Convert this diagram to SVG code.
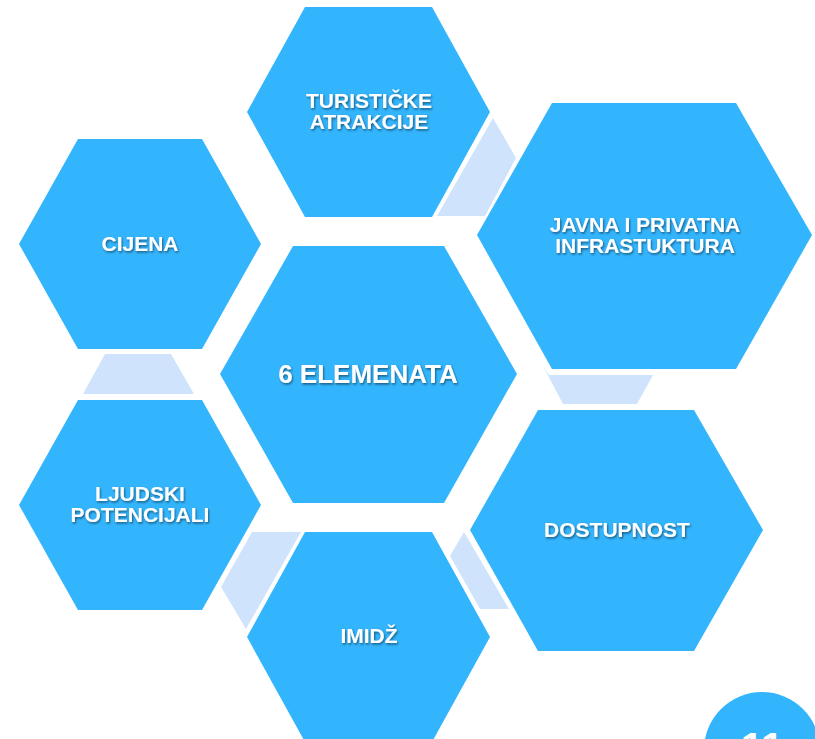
<svg xmlns="http://www.w3.org/2000/svg" width="815" height="739" viewBox="0 0 815 739">
<defs>
<filter id="sh" x="-10%" y="-30%" width="120%" height="160%">
<feDropShadow dx="1" dy="1.5" stdDeviation="0.9" flood-color="#000" flood-opacity="0.5"/>
</filter>
</defs>
<style>
.hex{fill:#33b5fe}
.lnk{fill:#cfe4fc}
.t{font-family:"Liberation Sans",Arial,sans-serif;font-weight:bold;fill:#fff;text-anchor:middle;font-size:21px;filter:url(#sh)}
.big{font-size:26px}
</style>
<rect width="815" height="739" fill="#fff"/>
<g id="connectors">
<polygon class="lnk" points="493,118 516,158 485,216 437,216"/>
<polygon class="lnk" points="105,354 171,354 194,394 83,394"/>
<polygon class="lnk" points="543,366 549,375 653,375 637,404 563,404"/>
<polygon class="lnk" points="252,532 301,532 246,629 221,587"/>
<polygon class="lnk" points="464,532 509,609 480,609 450,556"/>
</g>
<g id="node-turisticke">
<polygon class="hex" points="305,7 432,7 490,112 432,217 305,217 247,112"/>
<text class="t" x="369" y="108">TURISTIČKE</text>
<text class="t" x="369" y="129">ATRAKCIJE</text>
</g>
<g id="node-javna">
<polygon class="hex" points="552,103 736,103 812,235 736,369 552,369 477,235"/>
<text class="t" x="645" y="232">JAVNA I PRIVATNA</text>
<text class="t" x="645" y="253">INFRASTUKTURA</text>
</g>
<g id="node-cijena">
<polygon class="hex" points="78,139 202,139 261,244 202,349 78,349 19,244"/>
<text class="t" x="140" y="251">CIJENA</text>
</g>
<g id="node-center">
<polygon class="hex" points="293,246 444,246 517,374 444,503 293,503 220,374"/>
<text class="t big" x="368" y="383">6 ELEMENATA</text>
</g>
<g id="node-ljudski">
<polygon class="hex" points="78,400 202,400 261,505 202,610 78,610 19,505"/>
<text class="t" x="140" y="501">LJUDSKI</text>
<text class="t" x="140" y="522">POTENCIJALI</text>
</g>
<g id="node-dostupnost">
<polygon class="hex" points="538,410 694,410 763,530 694,651 538,651 470,530"/>
<text class="t" x="617" y="537">DOSTUPNOST</text>
</g>
<g id="node-imidz">
<polygon class="hex" points="305,532 432,532 490,637 432,742 305,742 247,637"/>
<text class="t" x="369" y="643">IMIDŽ</text>
</g>
<g id="page-number">
<circle cx="762" cy="750" r="58" fill="#33b5fe"/>
<text x="762" y="761" font-family="Liberation Sans,Arial,sans-serif" font-weight="bold" font-size="40" fill="#fff" text-anchor="middle">11</text>
</g>
</svg>
